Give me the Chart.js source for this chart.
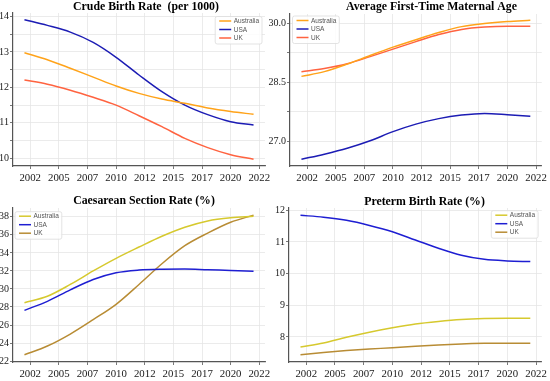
<!DOCTYPE html>
<html>
<head>
<meta charset="utf-8">
<script src="https://cdn.jsdelivr.net/npm/chart.js@4.4.1/dist/chart.umd.min.js"></script>
<style>
  body { margin: 0; background: #fff; }
  #wrap { position: relative; width: 550px; height: 381px; }
  canvas { position: absolute; }
</style>
</head>
<body>
<div id="wrap">
  <canvas id="birth" width="275" height="190" style="left:0;top:0"></canvas>
  <canvas id="age" width="300" height="190" style="left:250px;top:0"></canvas>
  <canvas id="csec" width="275" height="191" style="left:0;top:190px"></canvas>
  <canvas id="preterm" width="300" height="191" style="left:250px;top:190px"></canvas>
</div>
<script>
const years = [2002, 2004, 2006, 2008, 2010, 2012, 2014, 2016, 2018, 2020, 2022];
const countries = ['Australia', 'USA', 'UK'];

// crude birth rate (per 1000)
const birthAus = [12.98, 12.78, 12.54, 12.29, 12.04, 11.83, 11.67, 11.55, 11.42, 11.32, 11.24];
const birthUsa = [13.91, 13.75, 13.56, 13.27, 12.85, 12.35, 11.88, 11.50, 11.23, 11.03, 10.94];
const birthUk  = [12.21, 12.09, 11.92, 11.72, 11.50, 11.20, 10.89, 10.56, 10.30, 10.10, 9.97];

// average first-time maternal age
const ageAus = [28.65, 28.77, 28.96, 29.18, 29.39, 29.58, 29.76, 29.91, 29.99, 30.04, 30.07];
const ageUsa = [26.55, 26.68, 26.83, 27.02, 27.25, 27.44, 27.58, 27.67, 27.71, 27.68, 27.64];
const ageUk  = [28.77, 28.85, 28.97, 29.15, 29.34, 29.53, 29.71, 29.84, 29.90, 29.92, 29.92];

// caesarean section rate (%)
const csAus = [28.48, 29.19, 30.50, 32.00, 33.40, 34.65, 35.85, 36.85, 37.55, 37.90, 38.07];
const csUsa = [27.63, 28.63, 29.90, 31.05, 31.80, 32.10, 32.20, 32.22, 32.13, 32.05, 31.96];
const csUk  = [22.70, 23.67, 25.00, 26.60, 28.30, 30.50, 32.80, 34.80, 36.20, 37.40, 38.19];

// preterm birth rate (%)
const ptAus = [7.68, 7.81, 7.99, 8.15, 8.29, 8.41, 8.49, 8.55, 8.58, 8.59, 8.59];
const ptUsa = [11.84, 11.78, 11.68, 11.52, 11.32, 11.06, 10.80, 10.58, 10.45, 10.40, 10.38];
const ptUk  = [7.44, 7.51, 7.57, 7.62, 7.66, 7.71, 7.75, 7.78, 7.80, 7.80, 7.80];

// y tick labels that get text (other ticks only get a grid line)
const birthTicks = [10, 11, 12, 13, 14];
const ageTicks = [27.0, 28.5, 30.0];

const warmColors = ['#ffa31a', '#1c1cb4', '#ff6340'];
const goldColors = ['#d6c92e', '#1e1ed2', '#b88c34'];

const serif = "'Liberation Serif', 'DejaVu Serif', serif";

// title + boxed legend drawn on top of the plot
const panelDecor = {
  id: 'panelDecor',
  afterDraw(chart, args, o) {
    const ctx = chart.ctx;
    const area = chart.chartArea;
    ctx.save();
    ctx.font = 'bold 11.8px ' + serif;
    ctx.fillStyle = '#000';
    ctx.textAlign = 'center';
    ctx.textBaseline = 'middle';
    ctx.fillText(o.title, o.titleX, o.titleY);

    ctx.font = "6.5px 'Liberation Sans', Arial, sans-serif";
    const sets = chart.data.datasets;
    const textW = Math.max(...sets.map(d => ctx.measureText(d.label).width));
    const w = 18.5 + textW + 3;
    const h = 27.5;
    const left = o.side === 'right' ? area.right - o.dx - w : area.left + o.dx;
    const top = area.top + o.dy;
    ctx.fillStyle = 'rgba(255,255,255,0.85)';
    ctx.strokeStyle = '#dcdcdc';
    ctx.lineWidth = 0.8;
    ctx.beginPath();
    ctx.roundRect(left, top, w, h, 2);
    ctx.fill();
    ctx.stroke();
    sets.forEach((d, i) => {
      const y = top + 4.5 + 8.5 * i;
      ctx.strokeStyle = d.borderColor;
      ctx.lineWidth = 1.5;
      ctx.beginPath();
      ctx.moveTo(left + 4, y);
      ctx.lineTo(left + 16, y);
      ctx.stroke();
      ctx.fillStyle = '#555';
      ctx.textAlign = 'left';
      ctx.fillText(d.label, left + 18.5, y + 0.3);
    });
    ctx.restore();
  }
};

function buildChart(id, cfg) {
  const canvas = document.getElementById(id);
  const W = canvas.width, H = canvas.height;
  new Chart(canvas, {
    type: 'line',
    data: {
      datasets: countries.map((name, i) => ({
        label: name,
        data: years.map((yr, k) => ({ x: yr, y: cfg.series[i][k] })),
        borderColor: cfg.colors[i],
        borderWidth: 1.5,
        pointRadius: 0,
        cubicInterpolationMode: 'monotone',
        fill: false
      }))
    },
    options: {
      responsive: false,
      animation: false,
      layout: { padding: { left: 0, top: cfg.area.top, right: W - cfg.area.right, bottom: 0 } },
      plugins: {
        legend: { display: false },
        tooltip: { enabled: false },
        panelDecor: cfg.decor
      },
      scales: {
        x: {
          type: 'linear',
          min: 2001,
          max: 2023,
          afterFit: s => { s.height = H - cfg.area.bottom; },
          grid: { color: '#e6e6e6', lineWidth: 0.8, tickLength: 3, tickColor: '#555' },
          border: { color: '#555', width: 1.2 },
          ticks: {
            stepSize: 2.5,
            includeBounds: false,
            autoSkip: false,
            maxRotation: 0,
            padding: 3,
            color: '#1a1a1a',
            font: { family: serif, size: 10.8 },
            callback: v => Math.floor(v)
          }
        },
        y: {
          min: cfg.yMin,
          max: cfg.yMax,
          afterFit: s => { s.width = cfg.area.left; },
          grid: { color: '#e6e6e6', lineWidth: 0.8, tickLength: 3, tickColor: '#555' },
          border: { color: '#555', width: 1.2 },
          ticks: {
            stepSize: cfg.yStep,
            includeBounds: false,
            padding: 1,
            color: '#1a1a1a',
            font: { family: serif, size: 10 },
            callback: cfg.yLabel
          }
        }
      }
    },
    plugins: [panelDecor]
  });
}

const near = (list, v) => list.some(t => Math.abs(t - v) < 1e-6);

buildChart('birth', {
  series: [birthAus, birthUsa, birthUk],
  colors: warmColors,
  area: { left: 13, right: 265, top: 13, bottom: 166 },
  yMin: 9.78, yMax: 14.1, yStep: 0.5,
  yLabel: v => near(birthTicks, v) ? String(v) : '',
  decor: { title: 'Crude Birth Rate  (per 1000)', titleX: 146, titleY: 6.5, side: 'right', dx: 3, dy: 3.5 }
});

buildChart('age', {
  series: [ageAus, ageUsa, ageUk],
  colors: warmColors,
  area: { left: 40, right: 293, top: 14, bottom: 166 },
  yMin: 26.38, yMax: 30.23, yStep: 0.75,
  yLabel: v => near(ageTicks, v) ? v.toFixed(1) : '',
  decor: { title: 'Average First-Time Maternal Age', titleX: 181.5, titleY: 7, side: 'left', dx: 2.5, dy: 2 }
});

buildChart('csec', {
  series: [csAus, csUsa, csUk],
  colors: goldColors,
  area: { left: 13, right: 265, top: 18, bottom: 172 },
  yMin: 21.9, yMax: 38.98, yStep: 2,
  yLabel: v => String(v),
  decor: { title: 'Caesarean Section Rate (%)', titleX: 144, titleY: 11, side: 'left', dx: 2, dy: 3.7 }
});

buildChart('preterm', {
  series: [ptAus, ptUsa, ptUk],
  colors: goldColors,
  area: { left: 39, right: 293, top: 18, bottom: 172 },
  yMin: 7.21, yMax: 12.07, yStep: 1,
  yLabel: v => String(v),
  decor: { title: 'Preterm Birth Rate (%)', titleX: 174.5, titleY: 12, side: 'right', dx: 3.7, dy: 2.7 }
});
</script>
</body>
</html>
